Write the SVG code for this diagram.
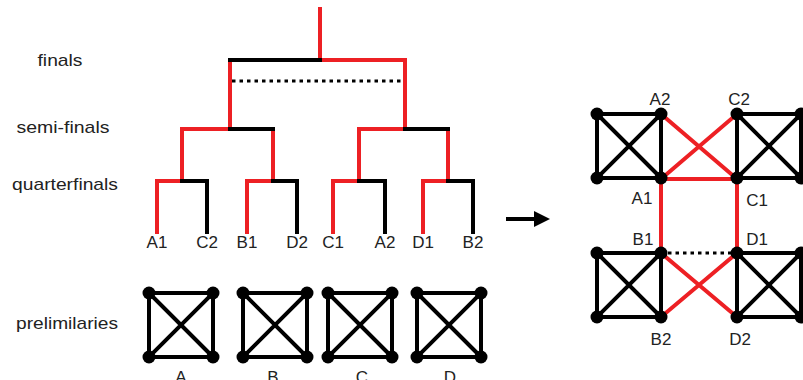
<svg xmlns="http://www.w3.org/2000/svg" width="803" height="380" viewBox="0 0 803 380">
<style>
text{font-family:"Liberation Sans",Arial,sans-serif;font-size:17px;fill:#222;text-anchor:middle}
.r{stroke:#ed2024;stroke-width:4;fill:none;stroke-linecap:square}
.k{stroke:#000;stroke-width:4;fill:none;stroke-linecap:square}
.d{stroke:#000;stroke-width:3;fill:none;stroke-dasharray:3.5 4}
.n{fill:#000}
</style>
<defs>
<g id="k4">
<path class="k" d="M0,0H64V64H0Z M0,0L64,64 M64,0L0,64"/>
<circle class="n" cx="0" cy="0" r="6.5"/><circle class="n" cx="64" cy="0" r="6.5"/>
<circle class="n" cx="0" cy="64" r="6.5"/><circle class="n" cx="64" cy="64" r="6.5"/>
</g>
<marker id="ah" markerWidth="4" markerHeight="4" refX="1" refY="2" orient="auto" markerUnits="strokeWidth"><path d="M0,0L4,2L0,4Z" fill="#000"/></marker>
</defs>
<g id="levels">
<text x="60" y="66" textLength="45" lengthAdjust="spacingAndGlyphs">finals</text>
<text x="63" y="133" textLength="93" lengthAdjust="spacingAndGlyphs">semi-finals</text>
<text x="65" y="190" textLength="106" lengthAdjust="spacingAndGlyphs">quarterfinals</text>
<text x="67" y="329" textLength="102" lengthAdjust="spacingAndGlyphs">prelimilaries</text>
</g>
<g id="connectors">
<path class="r" d="M320,9V60H405V129 M230,129V60"/>
<path class="k" d="M230,60H320"/>
<path class="d" d="M232,81H404"/>
<path class="r" d="M230,129H182V181 M273,129V181 M405,129H359V181 M448,129V181"/>
<path class="k" d="M230,129H273 M405,129H448"/>
<path class="r" d="M182,181H157V232 M273,181H247V232 M359,181H333V232 M448,181H423V232"/>
<path class="k" d="M182,181H207V232 M273,181H297V232 M359,181H385V232 M448,181H473V232"/>
<path class="k" d="M508,219H538" marker-end="url(#ah)"/>
<path class="r" d="M661,114L737,179 M737,114L661,179 M661,179H737 M661,179V253 M737,179V253 M661,253L737,317 M661,317L737,253"/>
<path class="d" d="M668,253H732"/>
</g>
<g id="bracket-labels">
<text x="157" y="248">A1</text><text x="207" y="248">C2</text>
<text x="247" y="248">B1</text><text x="297" y="248">D2</text>
<text x="333" y="248">C1</text><text x="385" y="248">A2</text>
<text x="423" y="248">D1</text><text x="473" y="248">B2</text>
</g>
<g id="A"><use href="#k4" x="149" y="293"/><text x="181" y="383">A</text></g>
<g id="B"><use href="#k4" x="243" y="293"/><text x="273" y="383">B</text></g>
<g id="C"><use href="#k4" x="328" y="293"/><text x="362" y="383">C</text></g>
<g id="D"><use href="#k4" x="417" y="293"/><text x="450" y="383">D</text></g>
<g id="G-A"><use href="#k4" x="597" y="114"/><text x="660" y="105">A2</text><text x="642" y="204">A1</text></g>
<g id="G-C"><use href="#k4" x="737" y="114"/><text x="739" y="105">C2</text><text x="757" y="206">C1</text></g>
<g id="G-B"><use href="#k4" x="597" y="253"/><text x="643" y="245">B1</text><text x="661" y="345">B2</text></g>
<g id="G-D"><use href="#k4" x="737" y="253"/><text x="757" y="245">D1</text><text x="740" y="345">D2</text></g>
</svg>
